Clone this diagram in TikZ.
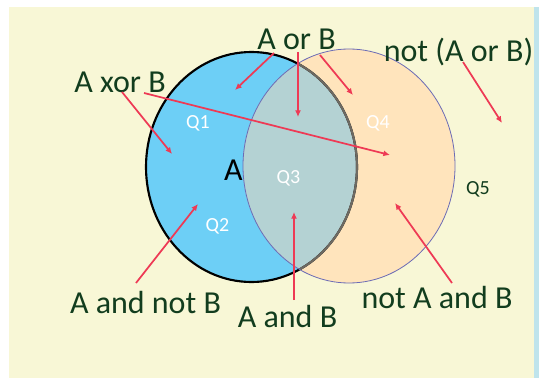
\documentclass[tikz,border=0pt]{standalone}
\usepackage{fontspec}
\setmainfont{Carlito}
\usepackage{tikz}
\usetikzlibrary{arrows.meta,positioning}
\definecolor{paper}{HTML}{F8F7D6}
\definecolor{edge}{HTML}{BFE4EC}
\definecolor{setA}{HTML}{6DCFF6}
\definecolor{setB}{HTML}{FFE4BC}
\definecolor{both}{HTML}{B4D2D3}
\definecolor{rimB}{HTML}{6B6BB5}
\definecolor{rimAB}{HTML}{6E6A62}
\definecolor{pointer}{HTML}{EE3A55}
\definecolor{darktext}{HTML}{123D1E}
\tikzset{
  setlabel/.style={anchor=base,inner sep=0pt,text=darktext,font=\fontsize{24}{28}\selectfont},
  qlabel/.style={anchor=base,inner sep=0pt,text=white,font=\fontsize{15}{18}\selectfont},
  pointarrow/.style={-{Latex[length=5pt,width=4.5pt]},line width=1.3pt,pointer}
}

\begin{document}
\begin{tikzpicture}[x=0.75pt,y=-0.75pt]
  \useasboundingbox (0,0) rectangle (539,378);
  % background
  \fill[paper] (9,7) rectangle (534,378);
  \fill[edge] (534,7) rectangle (539,378);

  % the two sets
  \fill[setA] (251.5,167) ellipse [x radius=105.5,y radius=115];
  \fill[setB] (349,166) ellipse [x radius=106,y radius=117];
  \begin{scope}
    \clip (251.5,167) ellipse [x radius=105.5,y radius=115];
    \fill[both] (349,166) ellipse [x radius=106,y radius=117];
  \end{scope}
  \draw[line width=1.6pt] (251.5,167) ellipse [x radius=105.5,y radius=115];
  \begin{scope}
    \clip (349,166) ellipse [x radius=106,y radius=117];
    \draw[rimAB,line width=1.6pt] (251.5,167) ellipse [x radius=105.5,y radius=115];
  \end{scope}
  \draw[rimB,line width=0.6pt] (349,166) ellipse [x radius=106,y radius=117];

  % region names
  \node[qlabel] (q1) at (198,128) {Q1};
  \node[qlabel] (q2) at (217.5,231) {Q2};
  \node[qlabel] (q3) at (288.5,183) {Q3};
  \node[qlabel] (q4) at (378,128) {Q4};
  \node[qlabel,text=darktext] (q5) at (478,194) {Q5};
  \node[setlabel,text=black] (seta) at (233.5,180) {A};

  % expressions
  \node[setlabel] (aorb) at (296.5,50) {A or B};
  \node[setlabel] (noraorb) at (458.5,62) {not (A or B)};
  \node[setlabel] (axorb) at (120,93) {A xor B};
  \node[setlabel] (anotb) at (145.5,313) {A and not B};
  \node[setlabel] (aandb) at (287.5,327) {A and B};
  \node[setlabel] (nota) at (437,308) {not A and B};

  % pointer ends
  \coordinate (or1) at (274,53);   \coordinate (or1e) at (235,90);
  \coordinate (or2) at (298,52);   \coordinate (or2e) at (298,117);
  \coordinate (or3) at (320,55);   \coordinate (or3e) at (353,95);
  \coordinate (nor) at (463,62);   \coordinate (nore) at (502,123);
  \coordinate (xor1) at (122,92);  \coordinate (xor1e) at (172,154);
  \coordinate (xor2) at (144,93);  \coordinate (xor2e) at (390,155);
  \coordinate (anb) at (136,283);  \coordinate (anbe) at (198,204);
  \coordinate (ab) at (294,300);   \coordinate (abe) at (294,212);
  \coordinate (nab) at (452,283);  \coordinate (nabe) at (395,203);

  \draw[pointarrow] (or1) -- (or1e);
  \draw[pointarrow] (or2) -- (or2e);
  \draw[pointarrow] (or3) -- (or3e);
  \draw[pointarrow] (nor) -- (nore);
  \draw[pointarrow] (xor1) -- (xor1e);
  \draw[pointarrow] (xor2) -- (xor2e);
  \draw[pointarrow] (anb) -- (anbe);
  \draw[pointarrow] (ab) -- (abe);
  \draw[pointarrow] (nab) -- (nabe);
\end{tikzpicture}
\end{document}
